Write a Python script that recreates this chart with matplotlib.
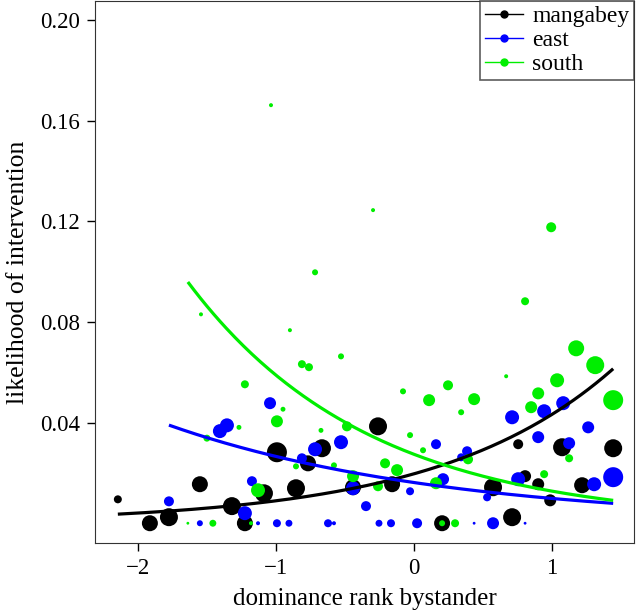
import numpy as np
import matplotlib
matplotlib.use("Agg")
import matplotlib.pyplot as plt
from matplotlib.lines import Line2D

plt.rcParams['font.family'] = ['Liberation Serif', 'DejaVu Serif']

# mangabey
mang_x = [-2.145, -1.913, -1.775, -1.551, -1.319, -1.225, -1.087, -0.993, -0.855, -0.768,
          -0.667, -0.442, -0.261, -0.159, 0.203, 0.572, 0.710, 0.754, 0.804, 0.899,
          0.986, 1.072, 1.217, 1.442]
mang_y = [0.0095, 0.0, 0.0024, 0.0155, 0.0068, 0.0, 0.0119, 0.0282, 0.0139, 0.0238,
          0.0298, 0.0143, 0.0385, 0.0155, 0.0, 0.0143, 0.0024, 0.0314, 0.0187, 0.0155,
          0.0091, 0.0302, 0.0151, 0.0298]
mang_n = [16, 64, 81, 64, 81, 64, 81, 100, 81, 64,
          81, 64, 81, 64, 64, 81, 81, 25, 36, 36,
          36, 81, 64, 81]

# east
east_x = [-1.775, -1.551, -1.406, -1.355, -1.225, -1.174, -1.130, -1.043, -0.993, -0.906,
          -0.812, -0.717, -0.623, -0.580, -0.529, -0.442, -0.348, -0.254, -0.167, -0.029,
          0.022, 0.159, 0.210, 0.341, 0.384, 0.435, 0.529, 0.572, 0.710, 0.754,
          0.804, 0.899, 0.942, 1.080, 1.123, 1.261, 1.304, 1.442]
east_y = [0.0087, 0.0, 0.0366, 0.0389, 0.0040, 0.0167, 0.0, 0.0477, 0.0, 0.0,
          0.0258, 0.0294, 0.0, 0.0, 0.0322, 0.0139, 0.0068, 0.0, 0.0, 0.0127,
          0.0, 0.0314, 0.0175, 0.0262, 0.0286, 0.0, 0.0103, 0.0, 0.0421, 0.0175,
          0.0, 0.0342, 0.0445, 0.0477, 0.0318, 0.0381, 0.0155, 0.0183]
east_n = [25, 9, 49, 49, 49, 25, 4, 36, 16, 12,
          25, 49, 16, 4, 49, 49, 25, 12, 16, 16,
          25, 25, 36, 16, 25, 2, 16, 36, 49, 49,
          2, 36, 49, 49, 36, 36, 49, 100]

# south
south_x = [-1.638, -1.543, -1.500, -1.457, -1.268, -1.225, -1.181, -1.130, -1.036, -0.993,
           -0.949, -0.899, -0.855, -0.812, -0.761, -0.717, -0.674, -0.580, -0.529, -0.486,
           -0.442, -0.297, -0.261, -0.210, -0.123, -0.080, -0.029, 0.065, 0.109, 0.159,
           0.203, 0.246, 0.297, 0.341, 0.391, 0.435, 0.667, 0.804, 0.848, 0.899,
           0.942, 0.993, 1.036, 1.123, 1.174, 1.312, 1.442]
south_y = [0.0, 0.0830, 0.0338, 0.0, 0.0381, 0.0552, 0.0, 0.0131, 0.1661, 0.0405,
           0.0453, 0.0767, 0.0226, 0.0632, 0.0620, 0.0997, 0.0369, 0.0230, 0.0663, 0.0385,
           0.0187, 0.1244, 0.0147, 0.0238, 0.0211, 0.0524, 0.0350, 0.0290, 0.0489, 0.0159,
           0.0, 0.0548, 0.0, 0.0441, 0.0254, 0.0493, 0.0584, 0.0882, 0.0461, 0.0516,
           0.0195, 0.1176, 0.0568, 0.0258, 0.0695, 0.0628, 0.0489]
south_n = [2, 4, 12, 12, 6, 16, 4, 49, 4, 36,
           6, 4, 9, 16, 16, 9, 6, 9, 9, 25,
           36, 4, 25, 25, 36, 9, 9, 9, 36, 36,
           9, 25, 16, 9, 25, 36, 4, 16, 36, 36,
           16, 25, 49, 16, 64, 81, 100]

# fitted curves: y = exp(a + b*x)
fit_a = {'mangabey': -3.93, 'east': -4.125, 'south': -3.598}
fit_b = {'mangabey': 0.79, 'east': -0.496, 'south': -0.765}

colors = {'mangabey': 'black', 'east': '#0000ff', 'south': '#00ee00'}
groups = [('mangabey', mang_x, mang_y, mang_n),
          ('east', east_x, east_y, east_n),
          ('south', south_x, south_y, south_n)]

fig = plt.figure(figsize=(6.38, 6.13), dpi=100)
ax = fig.add_axes([0.149, 0.114, 0.845, 0.884])

for name, x, y, n in groups:
    ax.scatter(x, y, s=np.array(n) * 2.07, c=colors[name], edgecolors='none', zorder=2)

for name, x, y, n in groups:
    xs = np.linspace(min(x), max(x), 200)
    ax.plot(xs, np.exp(fit_a[name] + fit_b[name] * xs), color=colors[name], lw=2.3,
            solid_capstyle='butt', zorder=3)

ax.set_xlim(-2.31, 1.594)
ax.set_ylim(-0.0079, 0.2074)
ax.set_xticks([-2, -1, 0, 1])
ax.set_xticklabels(['\u22122', '\u22121', '0', '1'])
ax.set_yticks([0.04, 0.08, 0.12, 0.16, 0.20])
ax.set_yticklabels(['0.04', '0.08', '0.12', '0.16', '0.20'])
ax.tick_params(labelsize=16.5, length=6, width=1, direction='out', pad=5)
for sp in ax.spines.values():
    sp.set_color('#333333')
ax.set_xlabel('dominance rank bystander', fontsize=18, labelpad=6)
ax.set_ylabel('likelihood of intervention', fontsize=18.5, labelpad=8)

handles = [Line2D([0], [0], color=colors[g], marker='o', markersize=5, lw=1)
           for g, _, _, _ in groups]
leg = ax.legend(handles, [g for g, _, _, _ in groups], loc='upper right', fontsize=17,
                frameon=True, fancybox=False, borderaxespad=0, handlelength=1.6,
                handletextpad=0.4, labelspacing=0.1, borderpad=0.2)
leg.get_frame().set_edgecolor('#333333')
leg.get_frame().set_linewidth(1.2)

fig.savefig('out.png', dpi=100)
